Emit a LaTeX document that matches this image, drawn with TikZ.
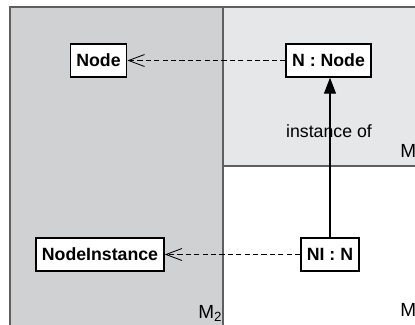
\documentclass[tikz,border=0pt]{standalone}
\usepackage{fontspec}
\setmainfont{Liberation Sans}
\usetikzlibrary{arrows.meta}

\definecolor{darkpane}{RGB}{208,209,211}
\definecolor{lightpane}{RGB}{230,231,232}
\definecolor{paneline}{RGB}{95,95,95}

\tikzset{
  pane/.style={draw=paneline, line width=0.8pt},
  cls/.style={draw=black, fill=white, line width=1pt, font=\fontsize{12.6}{14}\selectfont\bfseries,
    inner xsep=0.15cm, minimum height=0.825cm},
  lvl/.style={font=\fontsize{12.6}{14}\selectfont, inner sep=0pt},
  dep/.style={dash pattern=on 0.13cm off 0.08cm, line width=0.7pt,
    -{Straight Barb[length=0.4cm, width=0.3cm, line width=0.6pt]}},
  inst/.style={line width=0.8pt, -{Triangle[length=0.4cm, width=0.3cm]}}
}

\begin{document}
\begin{tikzpicture}[x=0.025cm, y=-0.025cm]
  \useasboundingbox (0,0) rectangle (415,324);
  \clip (0,0) rectangle (415,324);

  % the two model levels
  \draw[pane, fill=darkpane] (10,7) rectangle (223,340);
  \draw[pane, fill=lightpane] (223,7) rectangle (430,166);

  \node[cls] (Node) at (98.5,60.5) {Node};
  \node[cls] (NNode) at (328.5,60.5) {N : Node};
  \node[cls] (NodeInst) at (100,254.5) {NodeInstance};
  \node[cls] (NIN) at (330,254.5) {NI : N};

  \draw[dep] (NNode) -- (Node);
  \draw[dep] (NIN) -- (NodeInst);
  \draw[inst] (NIN) -- (NIN |- NNode.south);

  \node[lvl] (instof) at (329,131) {instance of};
  \node[lvl, font=\fontsize{13.5}{15}\selectfont, anchor=base west] (Mtop) at (400,157) {M};
  \node[lvl, font=\fontsize{13.5}{15}\selectfont, anchor=base west] (Mbot) at (400,316) {M};
  \node[lvl, font=\fontsize{13.5}{15}\selectfont, anchor=base west] (Mtwo) at (198,318) {M\textsubscript{2}};
\end{tikzpicture}
\end{document}
